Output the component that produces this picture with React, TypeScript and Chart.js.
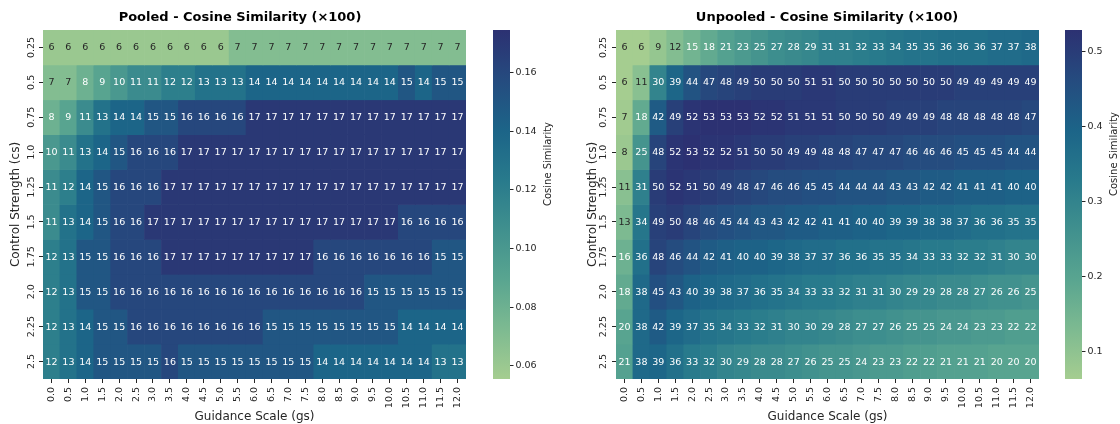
import React, { useEffect, useRef } from 'react';
import { Chart, registerables } from 'chart.js';

Chart.register(...registerables);

const W = 1120;
const H = 424;
const FONT = "'DejaVu Sans', 'Liberation Sans', sans-serif";
const TEXT = '#262626';

const gsLabels = ['0.0', '0.5', '1.0', '1.5', '2.0', '2.5', '3.0', '3.5', '4.0', '4.5', '5.0', '5.5', '6.0', '6.5', '7.0', '7.5', '8.0', '8.5', '9.0', '9.5', '10.0', '10.5', '11.0', '11.5', '12.0'];
const csLabels = ['0.25', '0.5', '0.75', '1.0', '1.25', '1.5', '1.75', '2.0', '2.25', '2.5'];

// Pooled cosine similarity (x100), one row per control strength
const pooledValues: number[][] = [
  [6, 6, 6, 6, 6, 6, 6, 6, 6, 6, 6, 7, 7, 7, 7, 7, 7, 7, 7, 7, 7, 7, 7, 7, 7],
  [7, 7, 8, 9, 10, 11, 11, 12, 12, 13, 13, 13, 14, 14, 14, 14, 14, 14, 14, 14, 14, 15, 14, 15, 15],
  [8, 9, 11, 13, 14, 14, 15, 15, 16, 16, 16, 16, 17, 17, 17, 17, 17, 17, 17, 17, 17, 17, 17, 17, 17],
  [10, 11, 13, 14, 15, 16, 16, 16, 17, 17, 17, 17, 17, 17, 17, 17, 17, 17, 17, 17, 17, 17, 17, 17, 17],
  [11, 12, 14, 15, 16, 16, 16, 17, 17, 17, 17, 17, 17, 17, 17, 17, 17, 17, 17, 17, 17, 17, 17, 17, 17],
  [11, 13, 14, 15, 16, 16, 17, 17, 17, 17, 17, 17, 17, 17, 17, 17, 17, 17, 17, 17, 17, 16, 16, 16, 16],
  [12, 13, 15, 15, 16, 16, 16, 17, 17, 17, 17, 17, 17, 17, 17, 17, 16, 16, 16, 16, 16, 16, 16, 15, 15],
  [12, 13, 15, 15, 16, 16, 16, 16, 16, 16, 16, 16, 16, 16, 16, 16, 16, 16, 16, 15, 15, 15, 15, 15, 15],
  [12, 13, 14, 15, 15, 16, 16, 16, 16, 16, 16, 16, 16, 15, 15, 15, 15, 15, 15, 15, 15, 14, 14, 14, 14],
  [12, 13, 14, 15, 15, 15, 15, 16, 15, 15, 15, 15, 15, 15, 15, 15, 14, 14, 14, 14, 14, 14, 14, 13, 13],
];

// Unpooled cosine similarity (x100)
const unpooledValues: number[][] = [
  [6, 6, 9, 12, 15, 18, 21, 23, 25, 27, 28, 29, 31, 31, 32, 33, 34, 35, 35, 36, 36, 36, 37, 37, 38],
  [6, 11, 30, 39, 44, 47, 48, 49, 50, 50, 50, 51, 51, 50, 50, 50, 50, 50, 50, 50, 49, 49, 49, 49, 49],
  [7, 18, 42, 49, 52, 53, 53, 53, 52, 52, 51, 51, 51, 50, 50, 50, 49, 49, 49, 48, 48, 48, 48, 48, 47],
  [8, 25, 48, 52, 53, 52, 52, 51, 50, 50, 49, 49, 48, 48, 47, 47, 47, 46, 46, 46, 45, 45, 45, 44, 44],
  [11, 31, 50, 52, 51, 50, 49, 48, 47, 46, 46, 45, 45, 44, 44, 44, 43, 43, 42, 42, 41, 41, 41, 40, 40],
  [13, 34, 49, 50, 48, 46, 45, 44, 43, 43, 42, 42, 41, 41, 40, 40, 39, 39, 38, 38, 37, 36, 36, 35, 35],
  [16, 36, 48, 46, 44, 42, 41, 40, 40, 39, 38, 37, 37, 36, 36, 35, 35, 34, 33, 33, 32, 32, 31, 30, 30],
  [18, 38, 45, 43, 40, 39, 38, 37, 36, 35, 34, 33, 33, 32, 31, 31, 30, 29, 29, 28, 28, 27, 26, 26, 25],
  [20, 38, 42, 39, 37, 35, 34, 33, 32, 31, 30, 30, 29, 28, 27, 27, 26, 25, 25, 24, 24, 23, 23, 22, 22],
  [21, 38, 39, 36, 33, 32, 30, 29, 28, 28, 27, 26, 25, 25, 24, 23, 23, 22, 22, 21, 21, 21, 20, 20, 20],
];

const pooledRange = [0.0555, 0.1745];
const unpooledRange = [0.064, 0.528];
const pooledTicks = [0.06, 0.08, 0.1, 0.12, 0.14, 0.16];
const unpooledTicks = [0.1, 0.2, 0.3, 0.4, 0.5];

// seaborn "crest" colormap stops
const crestStops: [number, string][] = [
  [0, '#a5cd90'],
  [1 / 7, '#7dba91'],
  [2 / 7, '#59a590'],
  [3 / 7, '#40908e'],
  [4 / 7, '#287a8c'],
  [5 / 7, '#1c6488'],
  [6 / 7, '#254b7f'],
  [1, '#2c3172'],
];

function hexToRgb(h: string): number[] {
  const n = parseInt(h.slice(1), 16);
  return [(n >> 16) & 255, (n >> 8) & 255, n & 255];
}

function crest(t: number): number[] {
  const c = Math.min(1, Math.max(0, t));
  for (let i = 1; i < crestStops.length; i++) {
    const [t1, h1] = crestStops[i];
    const [t0, h0] = crestStops[i - 1];
    if (c <= t1) {
      const f = (c - t0) / (t1 - t0);
      const a = hexToRgb(h0);
      const b = hexToRgb(h1);
      return a.map((v, k) => v + (b[k] - v) * f);
    }
  }
  return hexToRgb(crestStops[crestStops.length - 1][1]);
}

function rgbStr(c: number[]): string {
  return `rgb(${Math.round(c[0])},${Math.round(c[1])},${Math.round(c[2])})`;
}

function luminance(c: number[]): number {
  const lin = c.map((v) => {
    const s = v / 255;
    return s <= 0.03928 ? s / 12.92 : Math.pow((s + 0.055) / 1.055, 2.4);
  });
  return 0.2126 * lin[0] + 0.7152 * lin[1] + 0.0722 * lin[2];
}

function drawRotated(ctx: CanvasRenderingContext2D, text: string, x: number, y: number, font: string) {
  ctx.save();
  ctx.translate(x, y);
  ctx.rotate(-Math.PI / 2);
  ctx.font = font;
  ctx.fillStyle = TEXT;
  ctx.textAlign = 'center';
  ctx.textBaseline = 'middle';
  ctx.fillText(text, 0, 0);
  ctx.restore();
}

type PanelCfg = {
  values: number[][];
  range: number[];
  ticks: number[];
  tickDigits: number;
  title: string;
  titleX: number;
  areaLeft: number;
  areaRight: number;
  yScaleLeft: number;
  yTitlePad: number;
  yLabelX: number;
  cbLeft: number;
  cbRight: number;
  cbAxisW: number;
  cbLabelX: number;
  cbLabelY: number;
};

const TOP = 30;
const BOTTOM = 379;

function buildHeat(canvas: HTMLCanvasElement, p: PanelCfg) {
  const [vmin, vmax] = p.range;
  const norm = (v: number) => (v / 100 - vmin) / (vmax - vmin);
  const cellColors = p.values.map((row) => row.map((v) => crest(norm(v))));
  const datasets = csLabels.map((cs, ri) => ({
    label: cs,
    data: gsLabels.map(() => 1),
    backgroundColor: cellColors[ri].map(rgbStr),
    borderWidth: 0,
    barPercentage: 1,
    categoryPercentage: 1,
  }));

  const annot = {
    id: 'annot',
    afterDatasetsDraw(chart: any) {
      const ctx = chart.ctx as CanvasRenderingContext2D;
      ctx.save();
      ctx.font = `9.5px ${FONT}`;
      ctx.textAlign = 'center';
      ctx.textBaseline = 'middle';
      chart.data.datasets.forEach((_: any, di: number) => {
        const meta = chart.getDatasetMeta(di);
        meta.data.forEach((el: any, j: number) => {
          const pt = el.getCenterPoint();
          const lum = luminance(cellColors[di][j]);
          ctx.fillStyle = lum > 0.408 ? TEXT : '#ffffff';
          ctx.fillText(String(p.values[di][j]), pt.x, pt.y + 0.5);
        });
      });
      ctx.restore();
    },
  };

  const deco = {
    id: 'deco',
    afterDraw(chart: any) {
      const ctx = chart.ctx as CanvasRenderingContext2D;
      const ys = chart.scales.y;
      csLabels.forEach((lab, i) => {
        drawRotated(ctx, lab, p.yLabelX, ys.getPixelForValue(i + 0.5), `9.5px ${FONT}`);
      });
      ctx.save();
      ctx.font = `bold 13px ${FONT}`;
      ctx.fillStyle = '#000000';
      ctx.textAlign = 'center';
      ctx.textBaseline = 'middle';
      ctx.fillText(p.title, p.titleX, 18);
      ctx.restore();
    },
  };

  return new Chart(canvas, {
    type: 'bar',
    data: { labels: gsLabels, datasets },
    plugins: [annot, deco],
    options: {
      responsive: false,
      animation: false,
      events: [],
      layout: { padding: { left: p.yScaleLeft, right: W - p.areaRight, top: TOP, bottom: 0 } },
      plugins: { legend: { display: false }, tooltip: { enabled: false }, title: { display: false } },
      scales: {
        x: {
          type: 'category',
          stacked: true,
          grid: { offset: false, drawOnChartArea: false, drawTicks: true, tickLength: 4, tickColor: TEXT, tickWidth: 1 },
          border: { display: false },
          ticks: { autoSkip: false, minRotation: 90, maxRotation: 90, padding: 4, color: TEXT, font: { family: FONT, size: 9.5 } },
          title: { display: true, text: 'Guidance Scale (gs)', color: TEXT, font: { family: FONT, size: 12 }, padding: { top: 0, bottom: 0 } },
          afterFit: (s: any) => {
            s.height = H - BOTTOM;
          },
        },
        y: {
          type: 'linear',
          stacked: true,
          reverse: true,
          min: 0,
          max: csLabels.length,
          afterBuildTicks: (s: any) => {
            s.ticks = csLabels.map((_, i) => ({ value: i + 0.5 }));
          },
          ticks: { display: false },
          grid: { drawOnChartArea: false, drawTicks: true, tickLength: 4, tickColor: TEXT, tickWidth: 1 },
          border: { display: false },
          title: { display: true, text: 'Control Strength (cs)', color: TEXT, font: { family: FONT, size: 12 }, padding: { top: p.yTitlePad, bottom: 0 } },
          afterFit: (s: any) => {
            s.width = p.areaLeft - p.yScaleLeft;
          },
        },
      },
    } as any,
  });
}

function buildColorbar(canvas: HTMLCanvasElement, p: PanelCfg) {
  const [vmin, vmax] = p.range;
  const deco = {
    id: 'cbdeco',
    afterDraw(chart: any) {
      drawRotated(chart.ctx, 'Cosine Similarity', p.cbLabelX, p.cbLabelY, `10px ${FONT}`);
    },
  };
  return new Chart(canvas, {
    type: 'bar',
    data: {
      labels: ['cb'],
      datasets: [
        {
          data: [[vmin, vmax]],
          backgroundColor: (ctx: any) => {
            const ca = ctx.chart.chartArea;
            if (!ca) return 'rgba(0,0,0,0)';
            const g = ctx.chart.ctx.createLinearGradient(0, ca.bottom, 0, ca.top);
            crestStops.forEach(([t, c]) => g.addColorStop(t, c));
            return g;
          },
          borderWidth: 0,
          barPercentage: 1,
          categoryPercentage: 1,
        },
      ],
    },
    plugins: [deco],
    options: {
      responsive: false,
      animation: false,
      events: [],
      layout: { padding: { left: p.cbLeft, right: W - p.cbRight - p.cbAxisW, top: TOP, bottom: H - BOTTOM } },
      plugins: { legend: { display: false }, tooltip: { enabled: false }, title: { display: false } },
      scales: {
        x: { display: false },
        y: {
          type: 'linear',
          position: 'right',
          min: vmin,
          max: vmax,
          afterBuildTicks: (s: any) => {
            s.ticks = p.ticks.map((v) => ({ value: v }));
          },
          ticks: {
            padding: 2,
            color: TEXT,
            font: { family: FONT, size: 9.5 },
            callback: (v: any) => Number(v).toFixed(p.tickDigits),
          },
          grid: { drawOnChartArea: false, drawTicks: true, tickLength: 3.5, tickColor: TEXT, tickWidth: 1 },
          border: { display: false },
          afterFit: (s: any) => {
            s.width = p.cbAxisW;
          },
        },
      },
    } as any,
  });
}

const panels: PanelCfg[] = [
  {
    values: pooledValues,
    range: pooledRange,
    ticks: pooledTicks,
    tickDigits: 2,
    title: 'Pooled - Cosine Similarity (×100)',
    titleX: 240,
    areaLeft: 43,
    areaRight: 466,
    yScaleLeft: 0,
    yTitlePad: 8.3,
    yLabelX: 31.5,
    cbLeft: 493,
    cbRight: 510,
    cbAxisW: 40,
    cbLabelX: 548,
    cbLabelY: 164,
  },
  {
    values: unpooledValues,
    range: unpooledRange,
    ticks: unpooledTicks,
    tickDigits: 1,
    title: 'Unpooled - Cosine Similarity (×100)',
    titleX: 827,
    areaLeft: 616,
    areaRight: 1039,
    yScaleLeft: 560,
    yTitlePad: 25.8,
    yLabelX: 603.5,
    cbLeft: 1065,
    cbRight: 1082,
    cbAxisW: 30,
    cbLabelX: 1114,
    cbLabelY: 154,
  },
];

export default function App() {
  const refs = [useRef<HTMLCanvasElement>(null), useRef<HTMLCanvasElement>(null), useRef<HTMLCanvasElement>(null), useRef<HTMLCanvasElement>(null)];

  useEffect(() => {
    const charts: Chart[] = [];
    panels.forEach((p, i) => {
      const hc = refs[i * 2].current;
      const cc = refs[i * 2 + 1].current;
      if (hc) charts.push(buildHeat(hc, p));
      if (cc) charts.push(buildColorbar(cc, p));
    });
    return () => charts.forEach((c) => c.destroy());
  }, []);

  const canvasStyle: React.CSSProperties = { position: 'absolute', left: 0, top: 0, width: W, height: H };
  return (
    <div style={{ position: 'fixed', left: 0, top: 0, width: W, height: H, background: '#ffffff' }}>
      {refs.map((r, i) => (
        <canvas key={i} ref={r} width={W} height={H} style={canvasStyle} />
      ))}
    </div>
  );
}
